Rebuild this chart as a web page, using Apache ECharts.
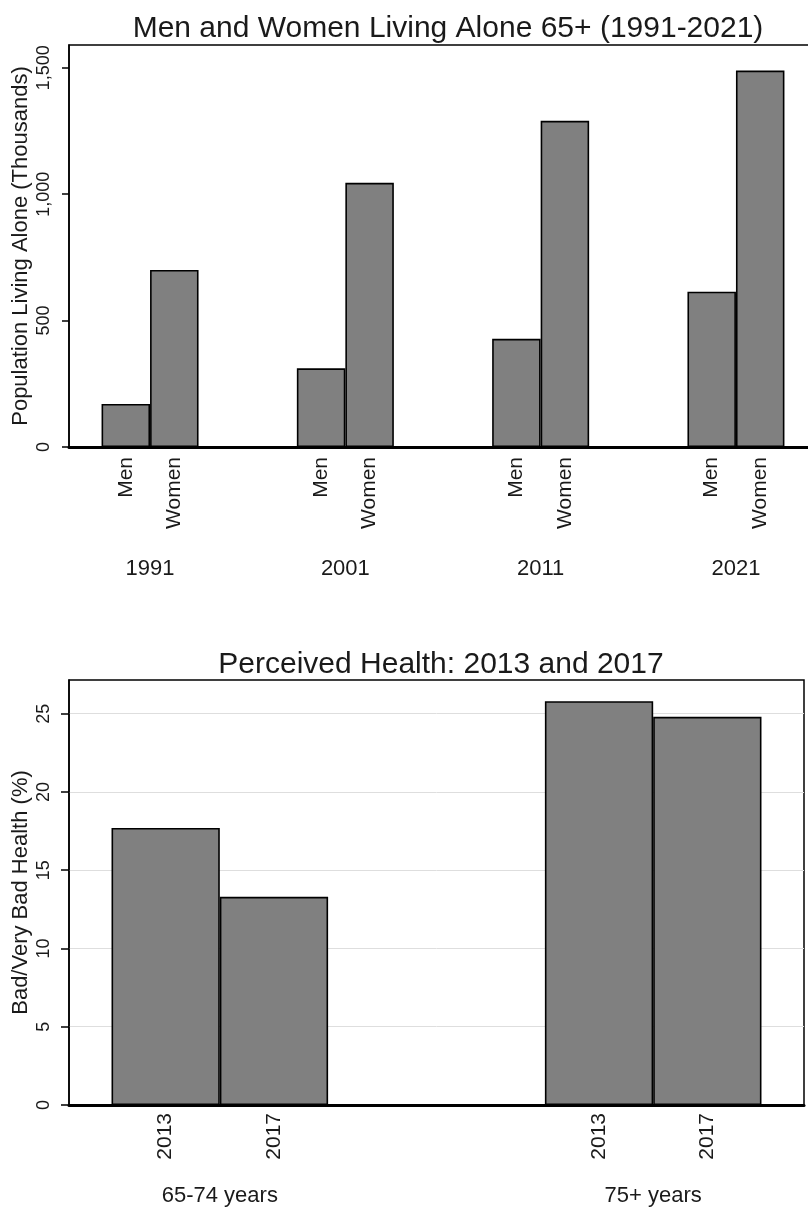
<!DOCTYPE html>
<html>
<head>
<meta charset="utf-8">
<title>Living Alone and Perceived Health, 65+</title>
<script src="https://cdn.jsdelivr.net/npm/echarts@6/dist/echarts.min.js"></script>
<style>
  html, body { margin: 0; padding: 0; background: #fff; }
  #chart { width: 808px; height: 1210px; }
</style>
</head>
<body>
<div id="chart"></div>
<script>
// Panel 1: people aged 65+ living alone, thousands
const years = ['1991', '2001', '2011', '2021'];
const menAlone = [170, 311, 428, 614];
const womenAlone = [700, 1045, 1290, 1489];
const aloneTicks = [0, 500, 1000, 1500];

// Panel 2: share reporting bad or very bad health, %
const ageGroups = ['65-74 years', '75+ years'];
const health2013 = [17.7, 25.8];
const health2017 = [13.3, 24.8];
const healthTicks = [0, 5, 10, 15, 20, 25];

const FONT = "'Liberation Sans', Arial, sans-serif";
const INK = '#1a1a1a';
const BAR_FILL = '#808080';

// group positions 1..n on a value axis, one bar per series in each group
const at = (vals) => vals.map((v, i) => [i + 1, v]);

const barLabel = (dist) => ({
  show: true,
  position: 'bottom',
  distance: dist,
  rotate: 90,
  align: 'right',
  verticalAlign: 'middle',
  formatter: '{a}',
  fontFamily: FONT,
  fontSize: 21,
  color: INK
});

const barStyle = { color: BAR_FILL, borderColor: '#000', borderWidth: 1.6 };

const chart = echarts.init(document.getElementById('chart'), null, { renderer: 'canvas' });

chart.setOption({
  backgroundColor: '#fff',
  animation: false,
  textStyle: { fontFamily: FONT },
  title: [
    {
      text: 'Men and Women Living Alone 65+ (1991-2021)',
      left: 443, top: 9, textAlign: 'center',
      textStyle: { fontFamily: FONT, fontSize: 30, fontWeight: 'normal', color: INK }
    },
    {
      text: 'Perceived Health: 2013 and 2017',
      left: 436, top: 645, textAlign: 'center',
      textStyle: { fontFamily: FONT, fontSize: 30, fontWeight: 'normal', color: INK }
    }
  ],
  grid: [
    { left: 69, top: 45, width: 748, height: 402, outerBoundsMode: 'none', show: true, borderColor: '#000', borderWidth: 1.5, backgroundColor: 'transparent' },
    { left: 69, top: 680, width: 735, height: 425, outerBoundsMode: 'none', show: true, borderColor: '#000', borderWidth: 1.5, backgroundColor: 'transparent' }
  ],
  xAxis: [
    {
      type: 'value', gridIndex: 0, min: 0.585, max: 4.415,
      axisLine: { show: true, onZero: false, lineStyle: { color: '#000', width: 3 } },
      axisTick: { show: false },
      splitLine: { show: false },
      axisLabel: {
        customValues: years.map((y, i) => i + 1),
        formatter: (v) => years[Math.round(v) - 1],
        margin: 122, verticalAlign: 'middle',
        fontFamily: FONT, fontSize: 22, color: INK
      }
    },
    {
      type: 'value', gridIndex: 1, min: 0.652, max: 2.348,
      axisLine: { show: true, onZero: false, lineStyle: { color: '#000', width: 3 } },
      axisTick: { show: false },
      splitLine: { show: false },
      axisLabel: {
        customValues: ageGroups.map((g, i) => i + 1),
        formatter: (v) => ageGroups[Math.round(v) - 1],
        margin: 91, verticalAlign: 'middle',
        fontFamily: FONT, fontSize: 22, color: INK
      }
    }
  ],
  yAxis: [
    {
      type: 'value', gridIndex: 0, min: 0, max: 1590,
      name: 'Population Living Alone (Thousands)',
      nameLocation: 'middle', nameRotate: 90, nameGap: 37, nameMoveOverlap: false,
      nameTextStyle: { fontFamily: FONT, fontSize: 22, color: INK },
      axisLine: { show: true, lineStyle: { color: '#000', width: 1.5 } },
      axisTick: { show: true, length: 7, customValues: aloneTicks, lineStyle: { color: '#000', width: 1.5 } },
      splitLine: { show: false },
      axisLabel: {
        customValues: aloneTicks, rotate: 90, margin: 16,
        formatter: (v) => v.toLocaleString('en-US'),
        fontFamily: FONT, fontSize: 18, color: INK
      }
    },
    {
      type: 'value', gridIndex: 1, min: 0, max: 27.15, interval: 5,
      name: 'Bad/Very Bad Health (%)',
      nameLocation: 'middle', nameRotate: 90, nameGap: 37, nameMoveOverlap: false,
      nameTextStyle: { fontFamily: FONT, fontSize: 22, color: INK },
      axisLine: { show: true, lineStyle: { color: '#000', width: 1.5 } },
      axisTick: { show: true, length: 8, customValues: healthTicks, lineStyle: { color: '#000', width: 1.5 } },
      splitLine: { show: true, lineStyle: { color: '#dedede', width: 1 } },
      axisLabel: {
        customValues: healthTicks, rotate: 90, margin: 16,
        fontFamily: FONT, fontSize: 18, color: INK
      }
    }
  ],
  series: [
    {
      type: 'bar', name: 'Men', xAxisIndex: 0, yAxisIndex: 0,
      data: at(menAlone), barWidth: 48.5, barGap: '0%',
      itemStyle: barStyle, label: barLabel(10)
    },
    {
      type: 'bar', name: 'Women', xAxisIndex: 0, yAxisIndex: 0,
      data: at(womenAlone), barWidth: 48.5, barGap: '0%',
      itemStyle: barStyle, label: barLabel(10)
    },
    {
      type: 'bar', name: '2013', xAxisIndex: 1, yAxisIndex: 1,
      data: at(health2013), barWidth: 108.3, barGap: '0%',
      itemStyle: barStyle, label: barLabel(8)
    },
    {
      type: 'bar', name: '2017', xAxisIndex: 1, yAxisIndex: 1,
      data: at(health2017), barWidth: 108.3, barGap: '0%',
      itemStyle: barStyle, label: barLabel(8)
    }
  ]
});
</script>
</body>
</html>
